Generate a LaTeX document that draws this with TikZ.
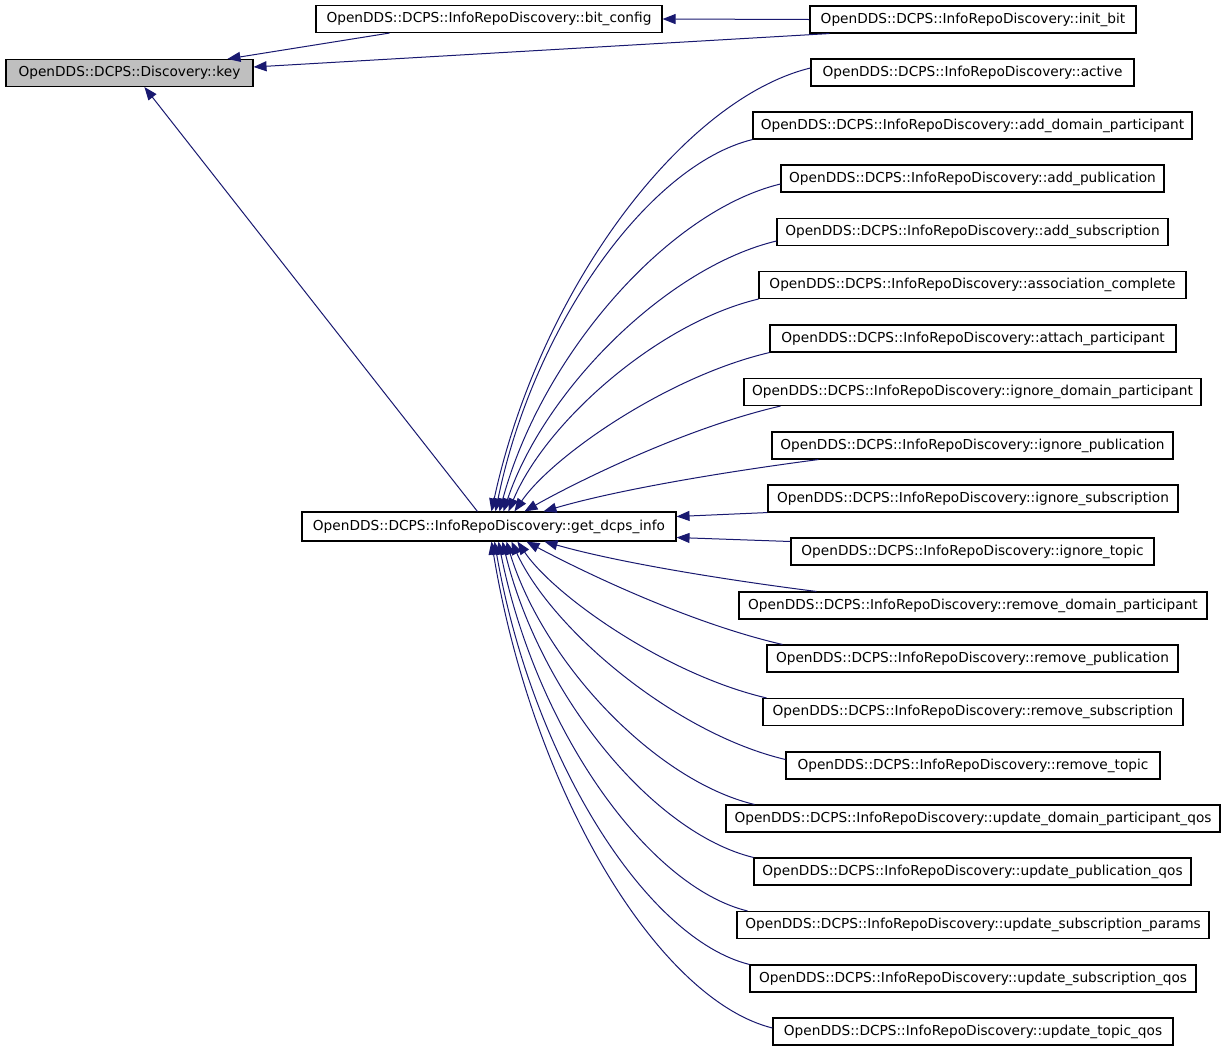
\documentclass[tikz,border=0pt]{standalone}
\usepackage{fontspec}
\setmainfont{DejaVu Sans}
\usetikzlibrary{arrows.meta,calc}
\definecolor{edgecol}{HTML}{191970}
\definecolor{keyfill}{HTML}{BFBFBF}
\newcommand\fanedge[2]{\draw[edge] let \p1=(#1), \p2=(#2),
  \n1={scalar(abs(\x1-\x2)/abs(\y1-\y2))},
  \n2={scalar(min(max(0.07+0.09*(\n1-0.72),0.05),0.25))},
  \n3={scalar(min(max(0.5-0.17*(\n1-0.72),0.2),0.55))} in
  (\p1) .. controls ({\x1-0.4*(\x1-\x2)},{\y1-\n2*(\y1-\y2)}) and ({\x2+0.15*(\x1-\x2)},{\y2+\n3*(\y1-\y2)}) .. (\p2);}
\newcommand\flatedge[2]{\draw[edge] let \p1=(#1), \p2=(#2) in (\p1) .. controls ({\x1-0.29*(\x1-\x2)},{\y1-0.2*(\y1-\y2)}) and ({\x2+0.29*(\x1-\x2)},{\y2+0.45*(\y1-\y2)}) .. (\p2);}
\begin{document}
\begin{tikzpicture}[x=1pt,y=-1pt,
  box/.style={draw=black, line width=1.1pt, fill=white, minimum height=27pt, inner xsep=2pt, inner ysep=0pt,
    font=\fontsize{13.7pt}{16pt}\selectfont, anchor=center},
  edge/.style={draw=edgecol, line width=1pt, -{Triangle[length=13pt,width=10pt]}}]
\useasboundingbox[fill=white] (0,0) rectangle (1227,1053);

% left side
\node[box, fill=keyfill, minimum width=247] (key) at (129.5,73) {OpenDDS::DCPS::Discovery::key};
\node[box, minimum width=346] (bitconfig) at (489,19) {OpenDDS::DCPS::InfoRepoDiscovery::bit\_config};
\node[box, minimum width=374, minimum height=29pt] (gdi) at (489,526.5) {OpenDDS::DCPS::InfoRepoDiscovery::get\_dcps\_info};

% right column
\node[box, minimum width=326] (initbit) at (973,19.5) {OpenDDS::DCPS::InfoRepoDiscovery::init\_bit};
\node[box, minimum width=323] (active) at (972.5,72.5) {OpenDDS::DCPS::InfoRepoDiscovery::active};
\node[box, minimum width=439] (adddomain) at (972.5,125.5) {OpenDDS::DCPS::InfoRepoDiscovery::add\_domain\_participant};
\node[box, minimum width=383] (addpub) at (972.5,178.5) {OpenDDS::DCPS::InfoRepoDiscovery::add\_publication};
\node[box, minimum width=391] (addsub) at (972.5,232) {OpenDDS::DCPS::InfoRepoDiscovery::add\_subscription};
\node[box, minimum width=427] (assoc) at (972.5,285) {OpenDDS::DCPS::InfoRepoDiscovery::association\_complete};
\node[box, minimum width=406] (attach) at (973,338.5) {OpenDDS::DCPS::InfoRepoDiscovery::attach\_participant};
\node[box, minimum width=457] (ignoredomain) at (972.5,392) {OpenDDS::DCPS::InfoRepoDiscovery::ignore\_domain\_participant};
\node[box, minimum width=401] (ignorepub) at (972.5,445.5) {OpenDDS::DCPS::InfoRepoDiscovery::ignore\_publication};
\node[box, minimum width=410] (ignoresub) at (973,498.5) {OpenDDS::DCPS::InfoRepoDiscovery::ignore\_subscription};
\node[box, minimum width=363] (ignoretopic) at (972.5,551.5) {OpenDDS::DCPS::InfoRepoDiscovery::ignore\_topic};
\node[box, minimum width=468] (removedomain) at (973,605.5) {OpenDDS::DCPS::InfoRepoDiscovery::remove\_domain\_participant};
\node[box, minimum width=411] (removepub) at (972.5,658.5) {OpenDDS::DCPS::InfoRepoDiscovery::remove\_publication};
\node[box, minimum width=420] (removesub) at (973,712) {OpenDDS::DCPS::InfoRepoDiscovery::remove\_subscription};
\node[box, minimum width=374] (removetopic) at (973,765.5) {OpenDDS::DCPS::InfoRepoDiscovery::remove\_topic};
\node[box, minimum width=494] (updatedomain) at (973,818.5) {OpenDDS::DCPS::InfoRepoDiscovery::update\_domain\_participant\_qos};
\node[box, minimum width=437] (updatepub) at (972.5,871.5) {OpenDDS::DCPS::InfoRepoDiscovery::update\_publication\_qos};
\node[box, minimum width=472] (updateparams) at (973,925) {OpenDDS::DCPS::InfoRepoDiscovery::update\_subscription\_params};
\node[box, minimum width=446] (updatesubqos) at (973,978.5) {OpenDDS::DCPS::InfoRepoDiscovery::update\_subscription\_qos};
\node[box, minimum width=400] (updatetopic) at (973,1031.5) {OpenDDS::DCPS::InfoRepoDiscovery::update\_topic\_qos};

% edges to key and bit_config
\draw[edge] ([xshift=74]bitconfig.south west) -- ([xshift=222]key.north west);
\draw[edge] ([xshift=20]initbit.south west) -- ([yshift=6]key.east);
\draw[edge] (initbit.west) -- (bitconfig.east);
\draw[edge] ([xshift=176]gdi.north west) -- ([xshift=139]key.south west);

% upper fan
\fanedge{[yshift=4.5]active.west}{[xshift=190]gdi.north west}
\fanedge{adddomain.south west}{[xshift=194]gdi.north west}
\fanedge{[yshift=-5.5]addpub.west}{[xshift=198]gdi.north west}
\fanedge{[yshift=-9]addsub.west}{[xshift=202]gdi.north west}
\fanedge{assoc.south west}{[xshift=207]gdi.north west}
\fanedge{attach.south west}{[xshift=213]gdi.north west}
\fanedge{[xshift=37]ignoredomain.south west}{[xshift=223]gdi.north west}
\flatedge{[xshift=47]ignorepub.south west}{[xshift=242]gdi.north west}

% side edges
\draw[edge] (ignoresub.south west) -- ([yshift=10]gdi.east);
\draw[edge] ([yshift=10]ignoretopic.west) -- ([yshift=-11]gdi.east);

% lower fan
\flatedge{[xshift=78]removedomain.north west}{[xshift=243]gdi.south west}
\fanedge{[xshift=16]removepub.north west}{[xshift=225]gdi.south west}
\fanedge{[xshift=4]removesub.north west}{[xshift=216]gdi.south west}
\fanedge{[yshift=6]removetopic.west}{[xshift=210]gdi.south west}
\fanedge{[xshift=29]updatedomain.north west}{[xshift=205]gdi.south west}
\fanedge{updatepub.north west}{[xshift=201]gdi.south west}
\fanedge{[xshift=11]updateparams.north west}{[xshift=197]gdi.south west}
\fanedge{updatesubqos.north west}{[xshift=193]gdi.south west}
\fanedge{[yshift=3.5]updatetopic.west}{[xshift=190]gdi.south west}
\end{tikzpicture}
\end{document}
